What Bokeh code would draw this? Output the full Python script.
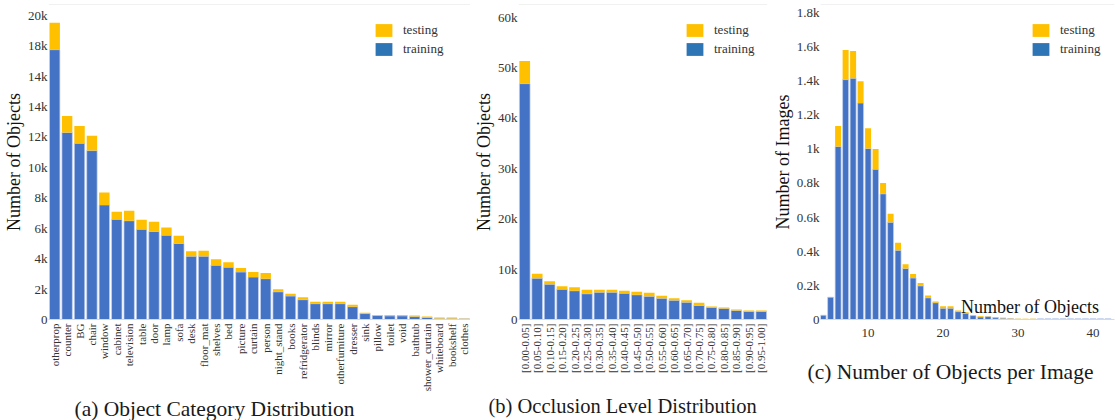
import math
from bokeh.plotting import figure
from bokeh.layouts import row
from bokeh.models import (FactorRange, Range1d, FixedTicker, Label, Legend,
                          LegendItem, Span, Title)
from bokeh.embed import file_html
from bokeh.resources import INLINE

# ---------------- data ----------------
a_categories = ["otherprop", "counter", "BG", "chair", "window", "cabinet",
                "television", "table", "door", "lamp", "sofa", "desk",
                "floor_mat", "shelves", "bed", "picture", "curtain", "person",
                "night_stand", "books", "refridgerator", "blinds", "mirror",
                "otherfurniture", "dresser", "sink", "pillow", "toilet", "void",
                "bathtub", "shower_curtain", "whiteboard", "bookshelf", "clothes"]
a_training = [17730, 12290, 11580, 11100, 7530, 6580, 6490, 5930, 5780, 5540,
              5000, 4160, 4160, 3570, 3440, 3120, 2790, 2680, 1820, 1540, 1300,
              1040, 1040, 1040, 840, 390, 260, 240, 240, 190, 130, 60, 60, 50]
a_testing = [1770, 1090, 1130, 980, 820, 500, 650, 630, 650, 500, 500, 320,
             360, 390, 330, 260, 330, 370, 170, 150, 170, 130, 130, 130, 130,
             60, 40, 60, 60, 70, 60, 70, 70, 10]
a_yticks = [0, 2000, 4000, 6000, 8000, 10000, 12000, 14000, 16000, 18000, 20000]
a_ylabels = ["0", "2k", "4k", "6k", "8k", "10k", "12k", "14k", "14k", "18k", "20k"]

b_categories = ["[0.00-0.05]", "[0.05-0.10]", "[0.10-0.15]", "[0.15-0.20]",
                "[0.20-0.25]", "[0.25-0.30]", "[0.30-0.35]", "[0.35-0.40]",
                "[0.40-0.45]", "[0.45-0.50]", "[0.50-0.55]", "[0.55-0.60]",
                "[0.60-0.65]", "[0.65-0.70]", "[0.70-0.75]", "[0.75-0.80]",
                "[0.80-0.85]", "[0.85-0.90]", "[0.90-0.95]", "[0.95-1.00]"]
b_training = [46800, 8200, 7000, 6000, 5700, 5100, 5400, 5400, 5200, 4900,
              4600, 4200, 3800, 3400, 2800, 2400, 2200, 1800, 1600, 1600]
b_testing = [4500, 900, 600, 600, 700, 800, 500, 500, 500, 600,
             700, 500, 400, 400, 500, 200, 200, 200, 200, 200]
b_yticks = [0, 10000, 20000, 30000, 40000, 50000, 60000]
b_ylabels = ["0", "10k", "20k", "30k", "40k", "50k", "60k"]

c_objects = [4, 5, 6, 7, 8, 9, 10, 11, 12, 13, 14, 15, 16, 17, 18, 19, 20, 21,
             22, 23, 24, 25, 26, 27, 28, 29, 30, 31, 32, 33, 34, 35, 36, 37, 38,
             39, 40, 41, 42]
c_training = [25, 131, 1014, 1405, 1413, 1268, 1002, 880, 736, 569, 405, 299,
              243, 197, 127, 98, 66, 66, 46, 37, 23, 14, 17, 10, 8, 6, 3, 1, 3,
              5, 5, 5, 5, 5, 5, 5, 5, 5, 5]
c_testing = [0, 0, 119, 174, 160, 128, 118, 118, 63, 51, 45, 25, 23, 17, 14, 8,
             11, 11, 6, 5, 4, 5, 2, 4, 2, 2, 1, 3, 2, 0, 0, 0, 0, 0, 0, 0, 0, 0, 0]
c_yticks = [0, 200, 400, 600, 800, 1000, 1200, 1400, 1600, 1800]
c_ylabels = ["0", "0.2k", "0.4k", "0.6k", "0.8k", "1k", "1.2k", "1.4k", "1.6k", "1.8k"]
c_xticks = [10, 20, 30, 40]

captions = ["(a) Object Category Distribution",
            "(b) Occlusion Level Distribution",
            "(c) Number of Objects per Image"]

# ---------------- style ----------------
FONT = "Liberation Serif"
BLUE = "#4472C4"
LEG_BLUE = "#2E75B6"
YELLOW = "#FFC000"
TXT = "#333333"
H = 420
TOP = 4
FRAME_H = 319
BOTTOM = H - TOP - FRAME_H


def base_fig(width, right, x_range, y_end):
    p = figure(width=width, height=H, x_range=x_range,
               y_range=Range1d(0, y_end), output_backend="svg",
               toolbar_location=None, min_border_left=10,
               min_border_right=right, min_border_top=TOP,
               min_border_bottom=BOTTOM)
    p.outline_line_color = None
    p.xgrid.visible = False
    p.ygrid.visible = False
    p.background_fill_color = "white"
    p.border_fill_color = "white"
    for ax in (p.xaxis[0], p.yaxis[0]):
        ax.major_tick_line_color = None
        ax.minor_tick_line_color = None
        ax.major_tick_out = 0
        ax.major_tick_in = 0
        ax.major_label_text_font = FONT
        ax.major_label_text_color = TXT
    p.yaxis.axis_line_color = None
    p.xaxis.axis_line_color = "#d9d9d9"
    p.yaxis.major_label_text_font_size = "13px"
    p.yaxis.major_label_standoff = 1
    p.yaxis.axis_label_text_font = FONT
    p.yaxis.axis_label_text_font_size = "18px"
    p.yaxis.axis_label_text_font_style = "normal"
    p.yaxis.axis_label_text_color = "#111111"
    p.yaxis.axis_label_standoff = 1
    p.add_layout(Span(location=y_end, dimension="width",
                      line_color="#e3e3e3", line_width=1))
    return p


def add_bars(p, x, train, test, width):
    tops = [a + b for a, b in zip(train, test)]
    p.vbar(x=x, top=train, bottom=0, width=width, fill_color=BLUE,
           line_color="#c7d4ee", line_width=0.7)
    p.vbar(x=x, top=tops, bottom=train, width=width, fill_color=YELLOW,
           line_color=None)


def add_legend(p, vx, vy, anchor_x):
    rt = p.rect(x=[anchor_x], y=[0], width=0, height=0, fill_color=YELLOW,
                line_color=None)
    rb = p.rect(x=[anchor_x], y=[0], width=0, height=0, fill_color=LEG_BLUE,
                line_color=None)
    leg = Legend(items=[LegendItem(label="testing", renderers=[rt]),
                        LegendItem(label="training", renderers=[rb])],
                 location=(vx, vy), glyph_width=21, glyph_height=16,
                 label_height=16, spacing=3, padding=0, margin=0,
                 label_standoff=9, border_line_color=None,
                 background_fill_alpha=0, label_text_font=FONT,
                 label_text_font_size="13px", label_text_color=TXT)
    p.add_layout(leg)


def add_caption(p, text, offset, gap, size="21.5px"):
    if gap > 0:
        p.add_layout(Title(text=" ", text_font_size="1px", standoff=gap),
                     "below")
    p.add_layout(Title(text=text, align="left", offset=offset, standoff=0,
                       vertical_align="bottom", text_font=FONT,
                       text_font_size=size, text_font_style="normal",
                       text_color="#1a1a1a"), "below")


def set_yticks(p, ticks, labels):
    p.yaxis.ticker = FixedTicker(ticks=ticks)
    p.yaxis.major_label_overrides = {t: l for t, l in zip(ticks, labels)}


# ---------------- panel (a) ----------------
pa = base_fig(470, 0, FactorRange(factors=a_categories, range_padding=0),
              20700)
add_bars(pa, a_categories, a_training, a_testing, 0.84)
set_yticks(pa, a_yticks, a_ylabels)
pa.yaxis.axis_label = "Number of Objects"
pa.xaxis.major_label_orientation = math.pi / 2
pa.xaxis.major_label_text_font_size = "11px"
pa.xaxis.major_label_standoff = 4
add_legend(pa, 325, 262, a_categories[0])
add_caption(pa, captions[0], 26, 0)

# ---------------- panel (b) ----------------
pb = base_fig(299, 2, FactorRange(factors=b_categories, range_padding=0),
              62500)
add_bars(pb, b_categories, b_training, b_testing, 0.86)
set_yticks(pb, b_yticks, b_ylabels)
pb.yaxis.axis_label = "Number of Objects"
pb.xaxis.major_label_orientation = math.pi / 2
pb.xaxis.major_label_text_font_size = "11px"
pb.xaxis.major_label_standoff = 4
add_legend(pb, 166, 262, b_categories[0])
add_caption(pb, captions[1], -30, 14, "20.5px")

# ---------------- panel (c) ----------------
pc = base_fig(346, 1, Range1d(3.65, 42.87), 1845)
add_bars(pc, c_objects, c_training, c_testing, 0.8)
set_yticks(pc, c_yticks, c_ylabels)
pc.yaxis.axis_label = "Number of Images"
pc.xaxis.ticker = FixedTicker(ticks=c_xticks)
pc.xaxis.major_label_text_font_size = "13px"
pc.xaxis.major_label_standoff = 9
add_legend(pc, 210, 262, c_objects[0])
add_caption(pc, captions[2], -13, 15)
pc.add_layout(Label(x=40.8, y=13, x_units="data", y_units="screen",
                    text="Number of Objects", text_font=FONT,
                    text_font_size="18px", text_color="#111111",
                    text_align="right", text_baseline="alphabetic"))

layout = row(pa, pb, pc, spacing=0)
open("out.html", "w").write(file_html(layout, INLINE))
